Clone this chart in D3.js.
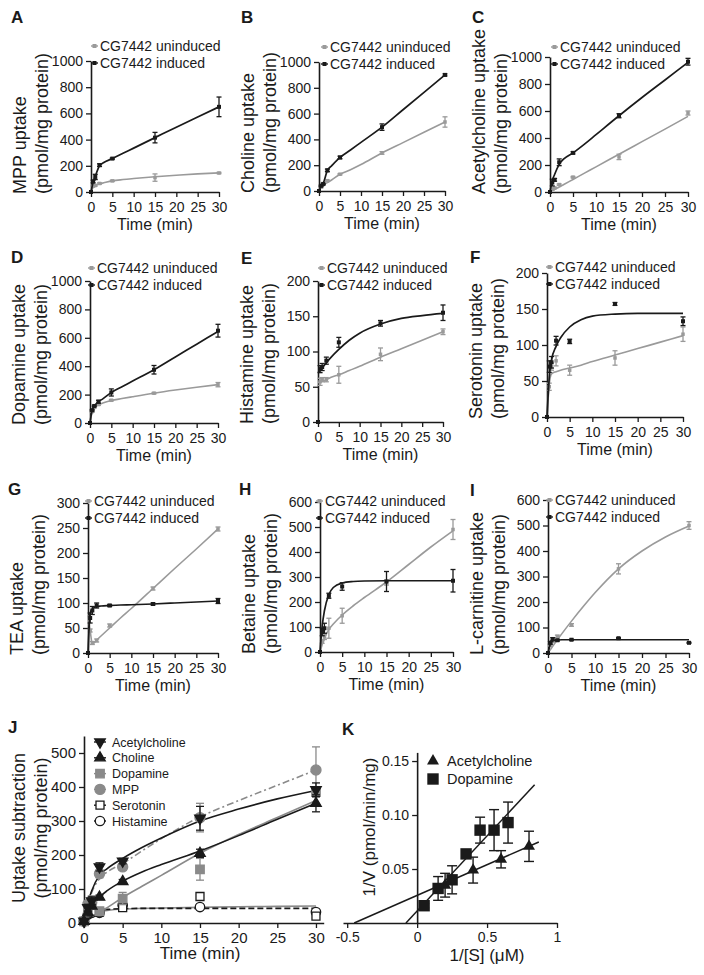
<!DOCTYPE html>
<html><head><meta charset="utf-8">
<script src="https://cdn.jsdelivr.net/npm/d3@7"></script>
<style>
body{margin:0;background:#fff;}
svg{display:block;font-family:"Liberation Sans",Arial,Helvetica,sans-serif;font-weight:normal;}
</style></head><body>
<svg id="fig" width="704" height="975"></svg>
<script>
// ---------------- DATA ----------------
const timePoints = [0, 0.5, 1, 2, 5, 15, 30];
const fitTimes = [0, 0.5, 1, 2, 3, 5, 7.5, 10, 15, 20, 25, 30];
const xTicks = [0, 5, 10, 15, 20, 25, 30];
const ticks1000 = [0, 200, 400, 600, 800, 1000];
const ticks200 = [0, 50, 100, 150, 200];
const ticks300 = [0, 50, 100, 150, 200, 250, 300];
const ticks600 = [0, 100, 200, 300, 400, 500, 600];
const legendLabels = ['CG7442 uninduced', 'CG7442 induced'];

// A  MPP
const mppInduced      = [0, 80, 115, 205, 255, 415, 650];
const mppInducedErr   = [0, 10, 20, 10, 5, 40, 75];
const mppInducedFit   = [0, 75, 120, 200, 225, 255, 295, 335, 415, 495, 572, 650];
const mppUninduced    = [0, 45, 50, 65, 85, 110, 145];
const mppUninducedErr = [0, 5, 5, 5, 5, 28, 5];
const mppUninducedFit = [0, 35, 50, 62, 70, 85, 95, 103, 117, 128, 138, 146];
// B  Choline
const choInduced      = [0, 40, 55, 160, 260, 495, 900];
const choInducedErr   = [0, 5, 5, 10, 10, 25, 8];
const choInducedFit   = [0, 40, 60, 160, 195, 260, 318, 377, 495, 630, 765, 900];
const choUninduced    = [0, 30, 50, 80, 130, 295, 535];
const choUninducedErr = [0, 5, 5, 5, 5, 10, 40];
const choUninducedFit = [0, 30, 45, 65, 85, 130, 165, 205, 295, 375, 455, 535];
// C  Acetylcholine
const achInduced      = [0, 70, 90, 220, 290, 565, 965];
const achInducedErr   = [0, 25, 10, 25, 8, 15, 25];
const achInducedFit   = [0, 85, 130, 205, 245, 290, 355, 425, 565, 700, 830, 960];
const achUninduced    = [0, 20, 30, 55, 110, 260, 585];
const achUninducedErr = [0, 5, 5, 5, 5, 20, 15];
const achUninducedFit = [0, 10, 19, 37, 56, 93, 140, 186, 280, 373, 466, 560];
// D  Dopamine
const dopInduced      = [0, 90, 120, 150, 215, 375, 650];
const dopInducedErr   = [0, 5, 5, 10, 25, 30, 45];
const dopInducedFit   = [0, 90, 118, 150, 170, 215, 255, 295, 375, 465, 555, 645];
const dopUninduced    = [0, 80, 110, 130, 160, 210, 270];
const dopUninducedErr = [0, 5, 5, 5, 5, 5, 15];
const dopUninducedFit = [0, 75, 105, 128, 140, 158, 172, 185, 210, 232, 252, 270];
// E  Histamine
const hisInduced      = [0, 75, 78, 87, 113, 140, 155];
const hisInducedErr   = [0, 5, 5, 5, 7, 4, 11];
const hisInducedFit   = [70, 73, 77, 84, 91, 103, 116, 126, 139, 147, 151, 154];
const hisUninduced    = [0, 57, 60, 60, 67, 96, 128];
const hisUninducedErr = [0, 5, 3, 3, 12, 9, 4];
const hisUninducedFit = [56, 57, 58, 60, 63, 67, 73, 79, 92, 104, 116, 128];
// F  Serotonin
const serInduced      = [0, 70, 76, 106, 105, 157, 133];
const serInducedErr   = [0, 8, 8, 6, 3, 2, 6];
const serInducedFit   = [0, 55, 79, 98, 110, 125, 135, 140, 143, 144, 144, 144];
const serUninduced    = [0, 42, 70, 78, 65, 82, 115];
const serUninducedErr = [0, 5, 5, 7, 7, 10, 10];
const serUninducedFit = [0, 45, 60, 63, 65, 68, 72, 77, 86, 95, 104, 113];
// G  TEA
const teaInduced      = [0, 70, 85, 95, 95, 98, 104];
const teaInducedErr   = [0, 10, 8, 5, 2, 2, 5];
const teaInducedFit   = [0, 80, 88, 93, 94, 95, 96, 96.5, 98, 100, 102, 104];
const teaUninduced    = [0, 45, 20, 25, 55, 129, 248];
const teaUninducedErr = [0, 3, 3, 3, 3, 3, 4];
const teaUninducedFit = [75, 45, 18, 26, 34, 50, 70, 89, 129, 169, 208, 248];
// H  Betaine
const betInduced      = [0, 80, 95, 225, 262, 282, 285];
const betInducedErr   = [0, 15, 20, 10, 15, 40, 45];
const betInducedFit   = [0, 105, 165, 230, 258, 276, 282, 284, 285, 285, 285, 285];
const betUninduced    = [0, 40, 60, 95, 145, 278, 490];
const betUninducedErr = [0, 5, 10, 40, 30, 10, 40];
const betUninducedFit = [0, 30, 55, 90, 112, 148, 185, 218, 280, 350, 420, 485];
// I  L-carnitine
const carInduced      = [0, 40, 55, 50, 52, 58, 40];
const carInducedErr   = [0, 5, 5, 3, 2, 2, 2];
const carInducedFit   = [0, 35, 47, 51, 52, 52, 52, 52, 52, 52, 52, 52];
const carUninduced    = [0, 30, 45, 65, 110, 330, 500];
const carUninducedErr = [0, 3, 3, 5, 5, 20, 15];
const carUninducedFit = [0, 13, 26, 52, 77, 125, 182, 236, 330, 400, 455, 498];

// J  Uptake subtraction
const jTicksX = [0, 5, 10, 15, 20, 25, 30];
const jTicksY = [0, 100, 200, 300, 400, 500];
const jNames = ['Acetylcholine', 'Choline', 'Dopamine', 'MPP', 'Serotonin', 'Histamine'];
const jAch    = [5, 45, 65, 165, 182, 308, 392];
const jAchErr = [0, 10, 12, 12, 8, 35, 20];
const jAchFit = [0, 60, 95, 140, 160, 190, 222, 250, 300, 335, 365, 390];
const jCho    = [5, 30, 50, 76, 122, 205, 352];
const jChoErr = [0, 5, 5, 6, 6, 12, 25];
const jChoFit = [0, 30, 48, 76, 95, 123, 150, 172, 212, 257, 305, 352];
const jDop    = [5, 40, 60, 35, 72, 158, 385];
const jDopErr = [0, 10, 20, 5, 18, 32, 15];
const jDopFit = [0, 8, 17, 32, 45, 75, 108, 140, 205, 260, 310, 360];
const jMpp    = [5, 55, 60, 145, 165, 310, 450];
const jMppErr = [0, 8, 15, 12, 10, 42, 68];
const jMppFit = [0, 55, 90, 130, 150, 175, 212, 248, 312, 360, 405, 450];
const jSer    = [5, 30, 35, 32, 45, 78, 20];
const jSerErr = [0, 4, 4, 4, 4, 4, 5];
const jSerFit = [0, 25, 33, 38, 40, 42, 43, 43, 43, 43, 43, 43];
const jHis    = [5, 25, 30, 30, 52, 47, 32];
const jHisErr = [0, 4, 4, 4, 5, 3, 5];
const jHisFit = [0, 20, 28, 34, 37, 41, 43, 44, 46, 48, 49, 50];

// K  Lineweaver-Burk
const kTicksX = [-0.5, 0, 0.5, 1];
const kTicksY = [0.05, 0.10, 0.15];
const kNames = ['Acetylcholine', 'Dopamine'];
const kAchX = [0.2, 0.4, 0.6, 0.8];
const kAchY = [0.035, 0.049, 0.059, 0.071];
const kAchErr = [0.011, 0.012, 0.008, 0.014];
const kAchLineX = [-0.45, 0.87];
const kAchLineY = [0, 0.075];
const kDopX = [0.05, 0.15, 0.25, 0.35, 0.45, 0.55, 0.65];
const kDopY = [0.016, 0.032, 0.040, 0.064, 0.086, 0.086, 0.093];
const kDopErr = [0.002, 0.011, 0.013, 0.003, 0.012, 0.019, 0.019];
const kDopLineX = [-0.08, 0.84];
const kDopLineY = [0, 0.128];

// ---------------- DRAWING ----------------
const svg = d3.select('#fig');
const FONT = 'Liberation Sans, Arial, Helvetica, sans-serif';
const BLACK = '#1a1a1a', GRAY = '#9a9a9a', JGRAY = '#8a8a8a';

function styleAxis(g, fs) {
  g.attr('font-family', FONT);
  g.select('.domain').attr('stroke', BLACK).attr('stroke-width', 1.6);
  g.selectAll('.tick line').attr('stroke', BLACK).attr('stroke-width', 1.3);
  g.selectAll('.tick text').attr('font-size', fs).attr('fill', BLACK).attr('font-weight', 'normal');
}
const zipT = (ts, vs) => ts.map((t, i) => [t, vs[i]]);
const intFmt = d3.format('d');

const panels = [
  {id:'A', title:['MPP uptake','(pmol/mg protein)'], ticks:ticks1000,
   ind:mppInduced, indErr:mppInducedErr, indFit:mppInducedFit, un:mppUninduced, unErr:mppUninducedErr, unFit:mppUninducedFit},
  {id:'B', title:['Choline uptake','(pmol/mg protein)'], ticks:ticks1000,
   ind:choInduced, indErr:choInducedErr, indFit:choInducedFit, un:choUninduced, unErr:choUninducedErr, unFit:choUninducedFit},
  {id:'C', title:['Acetylcholine uptake','(pmol/mg protein)'], ticks:ticks1000,
   ind:achInduced, indErr:achInducedErr, indFit:achInducedFit, un:achUninduced, unErr:achUninducedErr, unFit:achUninducedFit},
  {id:'D', title:['Dopamine uptake','(pmol/mg protein)'], ticks:ticks1000,
   ind:dopInduced, indErr:dopInducedErr, indFit:dopInducedFit, un:dopUninduced, unErr:dopUninducedErr, unFit:dopUninducedFit},
  {id:'E', title:['Histamine uptake','(pmol/mg protein)'], ticks:ticks200,
   ind:hisInduced, indErr:hisInducedErr, indFit:hisInducedFit, un:hisUninduced, unErr:hisUninducedErr, unFit:hisUninducedFit},
  {id:'F', title:['Serotonin uptake','(pmol/mg protein)'], ticks:ticks200,
   ind:serInduced, indErr:serInducedErr, indFit:serInducedFit, un:serUninduced, unErr:serUninducedErr, unFit:serUninducedFit},
  {id:'G', title:['TEA uptake','(pmol/mg protein)'], ticks:ticks300,
   ind:teaInduced, indErr:teaInducedErr, indFit:teaInducedFit, un:teaUninduced, unErr:teaUninducedErr, unFit:teaUninducedFit},
  {id:'H', title:['Betaine uptake','(pmol/mg protein)'], ticks:ticks600,
   ind:betInduced, indErr:betInducedErr, indFit:betInducedFit, un:betUninduced, unErr:betUninducedErr, unFit:betUninducedFit},
  {id:'I', title:['L-carnitine uptake','(pmol/mg protein)'], ticks:ticks600,
   ind:carInduced, indErr:carInducedErr, indFit:carInducedFit, un:carUninduced, unErr:carUninducedErr, unFit:carUninducedFit}
];

const layout = {
  A:{x0:91, x1:219, yT:61, yB:192, lx:100, ly:46, px:11, py:23},
  B:{x0:319,x1:445, yT:62, yB:191, lx:330, ly:47, px:241, py:23},
  C:{x0:550,x1:688, yT:57, yB:192, lx:560, ly:47, px:472, py:23},
  D:{x0:90, x1:218, yT:281,yB:423, lx:97, ly:268, px:11, py:263},
  E:{x0:318,x1:443, yT:281,yB:422, lx:327, ly:268, px:241, py:264},
  F:{x0:547,x1:683, yT:273,yB:417, lx:555, ly:267, px:470, py:263},
  G:{x0:88, x1:218, yT:503,yB:653, lx:94, ly:501, px:8, py:495},
  H:{x0:320,x1:453, yT:502,yB:652, lx:325, ly:501, px:239, py:495},
  I:{x0:548,x1:689, yT:500,yB:653, lx:555, ly:500, px:470, py:496}
};

function txt(g, x, y, s, size, opts = {}) {
  const t = g.append('text').attr('x', x).attr('y', y).attr('font-size', size)
    .attr('font-family', FONT).attr('font-weight', opts.bold ? 'bold' : 'normal')
    .attr('fill', BLACK).attr('text-anchor', opts.anchor || 'start').text(s);
  if (opts.transform) t.attr('x', null).attr('y', null).attr('transform', opts.transform);
  return t;
}

function drawSeries(g, x, y, vals, errs, fit, color, msize, lw) {
  const line = d3.line().x(d => x(d[0])).y(d => y(d[1])).curve(d3.curveMonotoneX);
  g.append('path').datum(zipT(fitTimes, fit)).attr('d', line)
    .attr('fill', 'none').attr('stroke', color).attr('stroke-width', lw);
  const pts = zipT(timePoints, vals).map((d, i) => ({t:d[0], v:d[1], e:errs[i]}));
  const eb = g.append('g').attr('stroke', color).attr('stroke-width', 1.3);
  pts.filter(d => d.e > 0).forEach(d => {
    const cx = x(d.t), y1 = y(d.v - d.e), y2 = y(d.v + d.e);
    eb.append('line').attr('x1', cx).attr('x2', cx).attr('y1', y1).attr('y2', y2);
    eb.append('line').attr('x1', cx - 2.5).attr('x2', cx + 2.5).attr('y1', y1).attr('y2', y1);
    eb.append('line').attr('x1', cx - 2.5).attr('x2', cx + 2.5).attr('y1', y2).attr('y2', y2);
  });
  g.append('g').selectAll('rect').data(pts).join('rect')
    .attr('x', d => x(d.t) - msize / 2).attr('y', d => y(d.v) - msize / 2)
    .attr('width', msize).attr('height', msize).attr('fill', color);
}

panels.forEach(p => {
  const L = layout[p.id];
  const ymax = p.ticks[p.ticks.length - 1];
  const x = d3.scaleLinear().domain([0, 30]).range([L.x0, L.x1]);
  const y = d3.scaleLinear().domain([0, ymax]).range([L.yB, L.yT]);
  const g = svg.append('g');

  const gx = g.append('g').attr('transform', `translate(0,${L.yB})`)
    .call(d3.axisBottom(x).tickValues(xTicks).tickFormat(intFmt).tickSize(5).tickSizeOuter(0).tickPadding(5));
  styleAxis(gx, 14);
  const gy = g.append('g').attr('transform', `translate(${L.x0},0)`)
    .call(d3.axisLeft(y).tickValues(p.ticks).tickFormat(intFmt).tickSize(5).tickSizeOuter(0).tickPadding(3));
  styleAxis(gy, 14);

  drawSeries(g, x, y, p.un, p.unErr, p.unFit, GRAY, 3.5, 1.6);
  drawSeries(g, x, y, p.ind, p.indErr, p.indFit, BLACK, 4, 1.7);

  // legend
  [GRAY, BLACK].forEach((c, i) => {
    const ly = L.ly + i * 17;
    g.append('line').attr('x1', L.lx - 9).attr('x2', L.lx - 2).attr('y1', ly).attr('y2', ly)
      .attr('stroke', c).attr('stroke-width', 1.4);
    g.append('rect').attr('x', L.lx - 7.5).attr('y', ly - 2).attr('width', 4).attr('height', 4).attr('fill', c);
    txt(g, L.lx, ly + 5, legendLabels[i], 14);
  });

  // axis titles
  txt(g, (L.x0 + L.x1) / 2, L.yB + 38, 'Time (min)', 16, {anchor:'middle'});
  p.title.forEach((t, i) => {
    txt(g, 0, 0, t, 18, {transform:`translate(${L.x0 - 65 + i * 22},${L.yB + 2}) rotate(-90)`});
  });
  txt(g, L.px, L.py, p.id, 17, {bold:true});
});

// ---------------- J ----------------
(function () {
  const x = d3.scaleLinear().domain([0, 31]).range([84, 323.7]);
  const y = d3.scaleLinear().domain([0, 550]).range([923, 736]);
  const g = svg.append('g');
  const gx = g.append('g').attr('transform', 'translate(0,923)')
    .call(d3.axisBottom(x).tickValues(jTicksX).tickFormat(intFmt).tickSize(5).tickSizeOuter(0).tickPadding(4));
  styleAxis(gx, 15);
  const gy = g.append('g').attr('transform', 'translate(84,0)')
    .call(d3.axisLeft(y).tickValues(jTicksY).tickFormat(intFmt).tickSize(5).tickSizeOuter(0).tickPadding(3));
  styleAxis(gy, 15);

  const series = [
    {name:jNames[0], vals:jAch, errs:jAchErr, fit:jAchFit, sym:d3.symbolTriangle, rot:180, size:48, fill:BLACK, stroke:BLACK, line:BLACK, dash:null},
    {name:jNames[1], vals:jCho, errs:jChoErr, fit:jChoFit, sym:d3.symbolTriangle, rot:0, size:48, fill:BLACK, stroke:BLACK, line:BLACK, dash:null},
    {name:jNames[2], vals:jDop, errs:jDopErr, fit:jDopFit, sym:d3.symbolSquare, rot:0, size:72, fill:JGRAY, stroke:JGRAY, line:JGRAY, dash:null},
    {name:jNames[3], vals:jMpp, errs:jMppErr, fit:jMppFit, sym:d3.symbolCircle, rot:0, size:80, fill:JGRAY, stroke:JGRAY, line:JGRAY, dash:'7,3,2,3'},
    {name:jNames[4], vals:jSer, errs:jSerErr, fit:jSerFit, sym:d3.symbolSquare, rot:0, size:64, fill:'#fff', stroke:BLACK, line:BLACK, dash:'6,3'},
    {name:jNames[5], vals:jHis, errs:jHisErr, fit:jHisFit, sym:d3.symbolCircle, rot:0, size:70, fill:'#fff', stroke:BLACK, line:JGRAY, dash:null}
  ];
  const line = d3.line().x(d => x(d[0])).y(d => y(d[1])).curve(d3.curveMonotoneX);
  series.slice().reverse().forEach(s => {
    g.append('path').datum(zipT(fitTimes, s.fit)).attr('d', line).attr('fill', 'none')
      .attr('stroke', s.line).attr('stroke-width', 1.6).attr('stroke-dasharray', s.dash);
  });
  series.slice().reverse().forEach(s => {
    const pts = zipT(timePoints, s.vals).map((d, i) => ({t:d[0], v:d[1], e:s.errs[i]}));
    const eb = g.append('g').attr('stroke', s.stroke).attr('stroke-width', 1.3);
    pts.filter(d => d.e > 0).forEach(d => {
      const cx = x(d.t), y1 = y(d.v - d.e), y2 = y(d.v + d.e);
      eb.append('line').attr('x1', cx).attr('x2', cx).attr('y1', y1).attr('y2', y2);
      eb.append('line').attr('x1', cx - 4).attr('x2', cx + 4).attr('y1', y1).attr('y2', y1);
      eb.append('line').attr('x1', cx - 4).attr('x2', cx + 4).attr('y1', y2).attr('y2', y2);
    });
    g.append('g').selectAll('path').data(pts).join('path')
      .attr('d', d3.symbol().type(s.sym).size(s.size))
      .attr('transform', d => `translate(${x(d.t)},${y(d.v)}) rotate(${s.rot})`)
      .attr('fill', s.fill).attr('stroke', s.stroke).attr('stroke-width', 1.3);
  });
  series.forEach((s, i) => {
    const ly = 742 + i * 15.8;
    g.append('line').attr('x1', 94).attr('x2', 106).attr('y1', ly).attr('y2', ly)
      .attr('stroke', s.stroke).attr('stroke-width', 1.4);
    g.append('path').attr('d', d3.symbol().type(s.sym).size(s.size))
      .attr('transform', `translate(100,${ly}) rotate(${s.rot})`)
      .attr('fill', s.fill).attr('stroke', s.stroke).attr('stroke-width', 1.3);
    txt(g, 112, ly + 4.5, s.name, 12.5);
  });
  txt(g, 200, 959, 'Time (min)', 17, {anchor:'middle'});
  txt(g, 0, 0, 'Uptake subtraction', 18, {anchor:'middle', transform:'translate(25,828) rotate(-90)'});
  txt(g, 0, 0, '(pmol/mg protein)', 18, {anchor:'middle', transform:'translate(47,828) rotate(-90)'});
  txt(g, 8, 733, 'J', 17, {bold:true});
})();

// ---------------- K ----------------
(function () {
  const x = d3.scaleLinear().domain([-0.53, 1]).range([343, 557]);
  const y = d3.scaleLinear().domain([0, 0.158]).range([923, 752.4]);
  const g = svg.append('g');
  const gx = g.append('g').attr('transform', `translate(0,${y(0)})`)
    .call(d3.axisBottom(x).tickValues(kTicksX).tickFormat(d => String(d)).tickSize(5).tickSizeOuter(0).tickPadding(4));
  styleAxis(gx, 14);
  const gy = g.append('g').attr('transform', `translate(${x(0)},0)`)
    .call(d3.axisLeft(y).tickValues(kTicksY).tickFormat(d3.format('.2f')).tickSize(5).tickSizeOuter(0).tickPadding(3));
  styleAxis(gy, 14);

  const lines = [[kAchLineX, kAchLineY], [kDopLineX, kDopLineY]];
  lines.forEach(([lx, ly]) => {
    g.append('line').attr('x1', x(lx[0])).attr('y1', y(ly[0])).attr('x2', x(lx[1])).attr('y2', y(ly[1]))
      .attr('stroke', BLACK).attr('stroke-width', 1.5);
  });
  const sets = [
    {xs:kAchX, ys:kAchY, es:kAchErr, sym:d3.symbolTriangle, size:62},
    {xs:kDopX, ys:kDopY, es:kDopErr, sym:d3.symbolSquare, size:130}
  ];
  sets.forEach(s => {
    const pts = s.xs.map((v, i) => ({x:v, y:s.ys[i], e:s.es[i]}));
    const eb = g.append('g').attr('stroke', BLACK).attr('stroke-width', 1.4);
    pts.forEach(d => {
      const cx = x(d.x), y1 = y(d.y - d.e), y2 = y(d.y + d.e);
      eb.append('line').attr('x1', cx).attr('x2', cx).attr('y1', y1).attr('y2', y2);
      eb.append('line').attr('x1', cx - 5).attr('x2', cx + 5).attr('y1', y1).attr('y2', y1);
      eb.append('line').attr('x1', cx - 5).attr('x2', cx + 5).attr('y1', y2).attr('y2', y2);
    });
    g.append('g').selectAll('path').data(pts).join('path')
      .attr('d', d3.symbol().type(s.sym).size(s.size))
      .attr('transform', d => `translate(${x(d.x)},${y(d.y)})`).attr('fill', BLACK);
  });
  sets.forEach((s, i) => {
    const ly = 761 + i * 18;
    g.append('path').attr('d', d3.symbol().type(s.sym).size(s.size))
      .attr('transform', `translate(433,${ly})`).attr('fill', BLACK);
    txt(g, 447, ly + 5, kNames[i], 14.5);
  });
  txt(g, 487, 961, '1/[S] (\u03bcM)', 17, {anchor:'middle'});
  txt(g, 0, 0, '1/V (pmol/min/mg)', 17, {anchor:'middle', transform:'translate(375,827) rotate(-90)'});
  txt(g, 342, 735, 'K', 17, {bold:true});
})();
</script>
</body></html>
